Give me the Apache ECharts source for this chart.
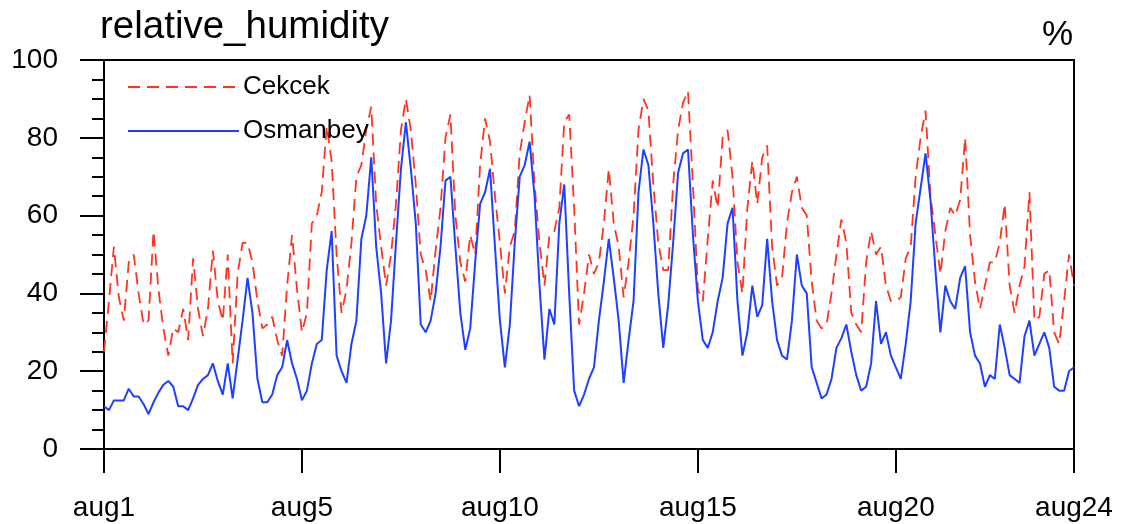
<!DOCTYPE html>
<html>
<head>
<meta charset="utf-8">
<title>relative_humidity</title>
<script src="https://cdn.jsdelivr.net/npm/echarts@6/dist/echarts.min.js"></script>
<style>
  html, body { margin: 0; padding: 0; background: #fff; }
  #chart { width: 1129px; height: 524px; }
</style>
</head>
<body>
<div id="chart"></div>
<script>
// Relative humidity at two stations, one reading every 3 hours from aug1 00h.
const stepHours = 3;

const seriesNames = ['Cekcek', 'Osmanbey'];

const cekcek = [
  25, 38, 52, 39, 33, 48, 50, 40, 32,
  33, 56, 41, 31, 24, 31, 30, 36,
  28, 49, 36, 29, 36, 51, 38, 33,
  50, 22, 45, 53, 53, 48, 38, 31,
  32, 34, 28, 24, 42, 55, 41, 30,
  35, 58, 60, 66, 83, 74, 50, 35,
  41, 53, 70, 73, 82, 88, 63, 52,
  42, 50, 63, 82, 90, 82, 68, 50,
  46, 38, 51, 62, 80, 86, 60, 48,
  43, 55, 50, 73, 85, 79, 65, 53,
  40, 52, 56, 76, 84, 91, 68, 53,
  42, 55, 56, 62, 84, 86, 62, 32,
  40, 50, 45, 48, 58, 72, 58, 52,
  39, 48, 60, 82, 90, 87, 68, 53,
  46, 46, 68, 82, 89, 92, 68, 41,
  38, 54, 69, 62, 80, 82, 70, 48,
  40, 62, 74, 63, 75, 78, 52, 42,
  44, 58, 66, 70, 62, 60, 43, 33,
  31, 32, 40, 50, 59, 53, 35, 32,
  30, 48, 56, 50, 52, 42, 38, 38,
  39, 49, 52, 70, 80, 87, 65, 55,
  45, 56, 62, 60, 64, 80, 55, 43,
  36, 42, 48, 48, 53, 63, 42, 35,
  42, 47, 66, 33, 34, 45, 46, 30,
  27, 38, 50, 42
];

const osmanbey = [
  11, 10, 12.5, 12.5, 12.5, 15.5, 13.5, 13.5, 11.5,
  9, 12, 14.5, 16.5, 17.5, 16, 11, 11,
  10, 13, 16.5, 18, 19, 22, 17.5, 14,
  22, 13, 23, 33, 44, 35, 18, 12,
  12, 14, 19, 21, 28, 22, 18, 12.5,
  15, 22, 27, 28, 46, 56, 24, 20,
  17, 27, 33, 54, 60, 75, 52, 40,
  22, 33, 53, 72, 84, 72, 58, 32,
  30, 33, 40, 52, 69, 70, 52, 35,
  25.5, 31, 48, 63, 66, 72, 52, 33,
  21, 32, 53, 70, 73, 79, 65, 42,
  23, 36, 32, 58, 68, 40, 15, 11,
  14, 18, 21, 33, 43, 54, 44, 33,
  17, 28, 38, 66, 77, 73, 58, 40,
  26, 37, 53, 71, 76, 77, 55, 38,
  28, 26, 30, 38, 44, 58, 62, 38,
  24, 30, 42, 34, 37, 54, 38, 28,
  24, 23, 33, 50, 42, 40, 21, 17,
  13, 14, 18, 26, 28.5, 32, 25, 19,
  15, 16, 22, 38, 27, 30, 24, 21,
  18, 27, 38, 58, 67, 76, 64, 46,
  30, 42, 38, 36, 44, 47, 30, 24,
  22, 16, 19, 18, 32, 26, 19, 18,
  17, 29, 33, 24, 27, 30, 26, 16,
  15, 15, 20, 21
];

// x axis runs in days since aug1 00h
const tickDays = [0, 5, 10, 15, 20, 24.5];
const tickLabels = ['aug1', 'aug5', 'aug10', 'aug15', 'aug20', 'aug24'];
const xMax = 24.5;

const yTicks = [0, 20, 40, 60, 80, 100];

const FONT = '"Liberation Sans", Arial, Helvetica, sans-serif';

function toPairs(values) {
  return values.map((v, i) => [i * stepHours / 24, v]);
}

const chart = echarts.init(document.getElementById('chart'), null, { renderer: 'canvas' });

const axisLineStyle = { color: '#000', width: 2 };

chart.setOption({
  animation: false,
  backgroundColor: '#ffffff',
  title: [
    {
      text: 'relative_humidity',
      left: 100,
      top: 8,
      padding: 0,
      textStyle: { fontFamily: FONT, fontSize: 38.5, fontWeight: 'normal', color: '#000' }
    },
    {
      text: '%',
      right: 56,
      top: 18,
      padding: 0,
      textStyle: { fontFamily: FONT, fontSize: 35, fontWeight: 'normal', color: '#000' }
    }
  ],
  legend: {
    data: seriesNames,
    orient: 'vertical',
    left: 127,
    top: 74,
    padding: 0,
    itemWidth: 111,
    itemHeight: 14,
    itemGap: 18,
    selectedMode: false,
    // line-only keys: hide the marker that line legends place mid-line
    itemStyle: { color: 'rgba(0,0,0,0)', borderWidth: 0, opacity: 0 },
    textStyle: { fontFamily: FONT, fontSize: 26, color: '#000', padding: [0, 0, 0, -1] }
  },
  grid: {
    left: 104,
    right: 55,
    top: 60,
    bottom: 75,
    show: true,
    borderColor: '#000',
    borderWidth: 2,
    backgroundColor: 'transparent',
    containLabel: false,
    outerBoundsMode: 'none'
  },
  xAxis: {
    type: 'value',
    min: 0,
    max: xMax,
    axisLine: { show: true, onZero: false, lineStyle: axisLineStyle },
    axisTick: {
      show: true,
      customValues: tickDays,
      length: 24,
      inside: false,
      lineStyle: axisLineStyle
    },
    axisLabel: {
      customValues: tickDays,
      formatter: (v) => {
        const i = tickDays.findIndex(t => Math.abs(t - v) < 1e-6);
        return i >= 0 ? tickLabels[i] : '';
      },
      fontFamily: FONT,
      fontSize: 28,
      color: '#000',
      margin: 45
    },
    splitLine: { show: false }
  },
  yAxis: {
    type: 'value',
    min: yTicks[0],
    max: yTicks[yTicks.length - 1],
    interval: 20,
    axisLine: { show: true, onZero: false, lineStyle: axisLineStyle },
    axisTick: { show: true, length: 24, inside: false, lineStyle: axisLineStyle },
    minorTick: { show: true, splitNumber: 4, length: 12, lineStyle: { color: '#000', width: 2 } },
    axisLabel: { fontFamily: FONT, fontSize: 28, color: '#000', margin: 46 },
    splitLine: { show: false },
    minorSplitLine: { show: false }
  },
  series: [
    {
      name: seriesNames[0],
      type: 'line',
      data: toPairs(cekcek),
      symbol: 'none',
      showSymbol: false,
      smooth: false,
      clip: true,
      lineStyle: { color: '#ff3320', width: 1.8, type: [12, 7] },
      itemStyle: { color: '#ff3320' },
      z: 2
    },
    {
      name: seriesNames[1],
      type: 'line',
      data: toPairs(osmanbey),
      symbol: 'none',
      showSymbol: false,
      smooth: false,
      clip: true,
      lineStyle: { color: '#2040ff', width: 2 },
      itemStyle: { color: '#2040ff' },
      z: 3
    }
  ]
});
</script>
</body>
</html>
